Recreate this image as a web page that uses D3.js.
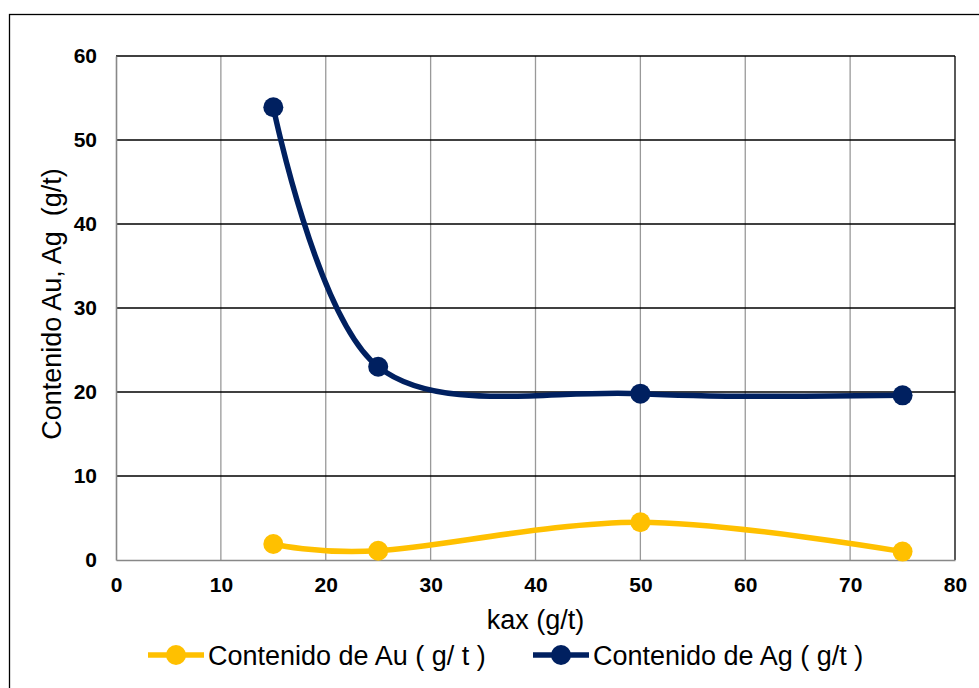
<!DOCTYPE html>
<html>
<head>
<meta charset="utf-8">
<script src="https://cdn.jsdelivr.net/npm/d3@7"></script>
<style>
  body { margin: 0; background: #fff; }
  svg { display: block; }
  text { font-family: "Liberation Sans", Arial, sans-serif; }
</style>
</head>
<body>
<script>
// Series data
const kax = [15, 25, 50, 75];
const au = [1.9, 1.1, 4.5, 1.0];
const ag = [53.9, 23.0, 19.8, 19.6];
const xTicks = [0, 10, 20, 30, 40, 50, 60, 70, 80];
const yTicks = [0, 10, 20, 30, 40, 50, 60];
const seriesNames = ["Contenido de Au ( g/ t )", "Contenido de Ag ( g/t )"];
const seriesColors = ["#FFC000", "#002060"];

const W = 979, H = 688;
const plot = { left: 116, right: 955, top: 56, bottom: 560 };

const svg = d3.select("body").append("svg").attr("width", W).attr("height", H);

// Outer chart frame
svg.append("rect")
  .attr("x", 9.5).attr("y", 14.5).attr("width", 980).attr("height", 700)
  .attr("fill", "#fff").attr("stroke", "#000").attr("stroke-width", 1.3);

const x = d3.scaleLinear().domain([0, 80]).range([plot.left, plot.right]);
const y = d3.scaleLinear().domain([0, 60]).range([plot.bottom, plot.top]);

// Vertical gridlines (gray)
svg.append("g").selectAll("line").data(xTicks.filter(d => d > 0 && d < 80)).join("line")
  .attr("x1", d => x(d)).attr("x2", d => x(d))
  .attr("y1", plot.top).attr("y2", plot.bottom)
  .attr("stroke", "#999").attr("stroke-width", 1.3);

// Horizontal gridlines (black)
svg.append("g").selectAll("line").data(yTicks.filter(d => d > 0)).join("line")
  .attr("x1", plot.left).attr("x2", plot.right)
  .attr("y1", d => y(d)).attr("y2", d => y(d))
  .attr("stroke", "#000").attr("stroke-width", 1.3);

// Right plot edge
svg.append("line")
  .attr("x1", plot.right).attr("x2", plot.right)
  .attr("y1", plot.top).attr("y2", plot.bottom)
  .attr("stroke", "#000").attr("stroke-width", 1.3);

// Axes
const xAxis = d3.axisBottom(x).tickValues(xTicks).tickSize(0).tickPadding(17);
const yAxis = d3.axisLeft(y).tickValues(yTicks).tickSize(0).tickPadding(19);

const gx = svg.append("g").attr("transform", `translate(0,${plot.bottom})`).call(xAxis);
const gy = svg.append("g").attr("transform", `translate(${plot.left},0)`).call(yAxis);
[gx, gy].forEach(g => {
  g.attr("font-size", 21).attr("font-family", "'Liberation Sans', Arial, sans-serif");
  g.select(".domain").attr("stroke", "#888").attr("stroke-width", 1.6);
  g.selectAll("text").attr("font-weight", "bold").attr("fill", "#000");
});

// Axis titles
svg.append("text").attr("x", x(40)).attr("y", 629)
  .attr("text-anchor", "middle").attr("font-size", 27).text("kax (g/t)");
svg.append("text")
  .attr("transform", `translate(61,304) rotate(-90)`)
  .attr("text-anchor", "middle").attr("font-size", 27)
  .attr("xml:space", "preserve").style("white-space", "pre")
  .text("Contenido Au, Ag  (g/t)");

// Smoothed series lines with markers
const line = d3.line().x(d => x(d[0])).y(d => y(d[1])).curve(d3.curveCardinal.tension(0));
[au, ag].forEach((vals, i) => {
  const pts = kax.map((k, j) => [k, vals[j]]);
  svg.append("path").datum(pts)
    .attr("d", line).attr("fill", "none")
    .attr("stroke", seriesColors[i]).attr("stroke-width", 5.5)
    .attr("stroke-linejoin", "round");
  svg.append("g").selectAll("circle").data(pts).join("circle")
    .attr("cx", d => x(d[0])).attr("cy", d => y(d[1])).attr("r", 10)
    .attr("fill", seriesColors[i]);
});

// Legend
const legendX = [148, 533];
seriesNames.forEach((name, i) => {
  const g = svg.append("g").attr("transform", `translate(${legendX[i]},655)`);
  g.append("line").attr("x1", 0).attr("x2", 56).attr("y1", 0).attr("y2", 0)
    .attr("stroke", seriesColors[i]).attr("stroke-width", 5.5);
  g.append("circle").attr("cx", 28).attr("cy", 0).attr("r", 10).attr("fill", seriesColors[i]);
  g.append("text").attr("x", 60).attr("y", 10).attr("font-size", 27)
    .attr("xml:space", "preserve").style("white-space", "pre").text(name);
});
</script>
</body>
</html>
